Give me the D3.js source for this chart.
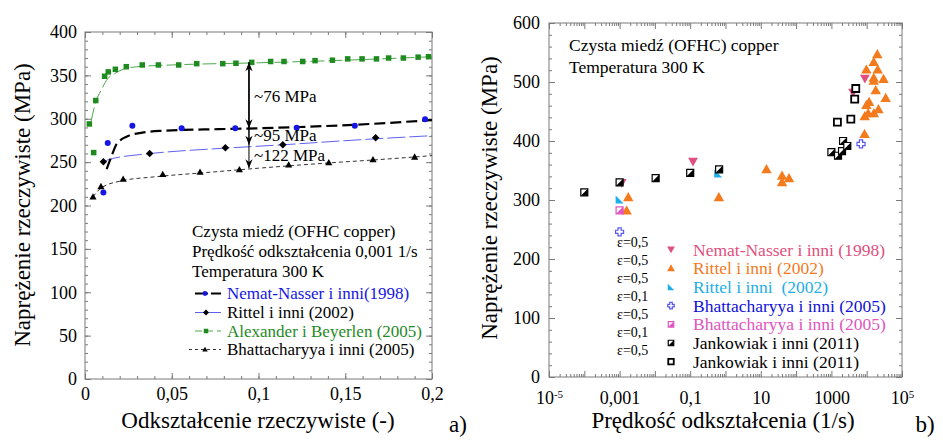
<!DOCTYPE html>
<html>
<head>
<meta charset="utf-8">
<script src="https://cdn.jsdelivr.net/npm/d3@7"></script>
<style>
  body { margin: 0; background: #fff; }
  svg { display: block; font-family: "Liberation Serif", "Times New Roman", serif; }
</style>
</head>
<body>
<svg id="chart" width="943" height="440"></svg>
<script>
// ---------- Panel a): true stress vs true strain at 0.001 1/s ----------
// [strain, stress MPa]
const alexanderPts = [[0.0025,294],[0.005,261],[0.0062,321],[0.0113,349],[0.0134,354],[0.0175,357],
  [0.0238,360],[0.033,362],[0.0423,362],[0.054,362],[0.0644,363.5],[0.0794,363.5],[0.087,364],
  [0.0961,365],[0.107,366],[0.1147,366],[0.1255,366],[0.1326,367],[0.1426,367.5],[0.1514,369],
  [0.1597,369],[0.168,369],[0.175,370],[0.1835,370],[0.192,371],[0.198,371.5]];
const alexanderFit = [[0.0035,297],[0.006,318],[0.0096,334],[0.013,346],[0.017,352],[0.022,357],
  [0.03,360],[0.05,362],[0.1,364.5],[0.15,367.5],[0.2,371.5]];

const nematPts = [[0.0106,215],[0.0131,272],[0.0273,292],[0.0557,289],[0.0866,289],[0.122,289.5],
  [0.1555,292],[0.196,299.5]];
const nematFit = [[0.0125,242],[0.0155,258],[0.0183,271],[0.0248,280],[0.033,284],[0.043,286],
  [0.077,288],[0.1,289],[0.124,290.5],[0.155,293],[0.2,298.5]];

const rittelPts = [[0.0106,250.5],[0.0373,260],[0.0809,266.5],[0.114,270],[0.1675,278]];
const rittelFit = [[0.0106,249],[0.013,252.5],[0.033,259],[0.046,261.5],[0.08,266],[0.114,270],
  [0.16,276],[0.2,280.5]];

const bhattPts = [[0.0046,210],[0.0092,222],[0.022,230.5],[0.0448,236],[0.0663,238.5],[0.089,241.5],
  [0.1174,247],[0.1405,249.5],[0.166,253],[0.19,256]];
const bhattFit = [[0.0046,210],[0.0092,220],[0.02,228],[0.04,233],[0.07,238],[0.1,243],[0.14,249],
  [0.17,253],[0.2,257.5]];

// stress gaps measured at one strain: [strain, upper stress, lower stress, label]
const gapArrows = [[0.0945,365,289,"~76 MPa"],[0.0945,365,270,"~95 MPa"],[0.0945,365,243,"~122 MPa"]];

const strainTicks = [0,0.05,0.1,0.15,0.2];
const stressTicksA = [0,50,100,150,200,250,300,350,400];

const infoA = ["Czysta miedź (OFHC copper)","Prędkość odkształcenia 0,001 1/s","Temperatura 300 K"];
const legendA = ["Nemat-Nasser i inni(1998)","Rittel i inni (2002)","Alexander i Beyerlen (2005)","Bhattacharyya i inni (2005)"];

// ---------- Panel b): true stress vs strain rate ----------
// [strain rate 1/s, stress MPa]
const nematB = [[0.00115,329],[0.12,365],[4100,482],[8900,506]];
const rittelOrangeB = [[0.00176,304.5],[0.00158,282],[0.65,304.5],[14.5,352],[40,341],[40,330],[63,337],
  [20000,547],[15800,534],[9800,521],[20500,521],[15800,507],[15800,502],[30000,505],[18000,486],
  [34500,473],[9800,461],[11700,466],[11000,447],[16000,447],[21500,454],[8800,442],[8700,412]];
const rittelCyanB = [[0.001,301],[0.62,345]];
const bhattBlueB = [[0.001,246],[6900,395]];
const bhattPinkB = [[0.001,282.5]];
const jankHalfB = [[0.0001,313],[0.001,330],[0.0105,337],[0.1,346],[0.66,352],[1000,381],[1540,375],
  [2000,383],[2140,400],[2820,391.5]];
const jankOpenB = [[1480,432],[3550,437],[4570,471],[4900,489]];

const rateLabelTicks = [1e-5,1e-3,1e-1,1e1,1e3,1e5];
const stressTicksB = [0,100,200,300,400,500,600];
const epsLabels = ["ε=0,5","ε=0,5","ε=0,5","ε=0,1","ε=0,5","ε=0,1","ε=0,5"];
const infoB = ["Czysta miedź (OFHC) copper","Temperatura 300 K"];
const legendB = ["Nemat-Nasser i inni (1998)","Rittel i inni (2002)","Rittel i inni  (2002)",
  "Bhattacharyya i inni (2005)","Bhattacharyya i inni (2005)","Jankowiak i inni (2011)","Jankowiak i inni (2011)"];

// ---------- colours ----------
const C = {
  green: "#1f8a1f", greenLine: "#4aa84a", blue: "#1515e6", blueLine: "#6060f0",
  black: "#000", pink: "#e0507e", orange: "#f37a1d", cyan: "#1eaee8",
  violet: "#5858f0", magenta: "#e055c0", frame: "#7a7a7a"
};
const SERIF = "'Liberation Serif', 'Times New Roman', serif";

const svg = d3.select("#chart");
const loc = d3.formatLocale({decimal: ",", thousands: "", grouping: [3], currency: ["", ""]});
const fmtA = loc.format(".2~f");

// ---------- shared helpers ----------
function frame(g, x0, y0, x1, y1) {
  g.append("rect").attr("x", x0).attr("y", y0).attr("width", x1 - x0).attr("height", y1 - y0)
    .attr("fill", "none").attr("stroke", C.frame).attr("stroke-width", 1);
}
function styleAxis(sel) {
  sel.attr("font-family", null).attr("font-size", null);
  sel.select(".domain").remove();
  sel.selectAll(".tick line").attr("stroke", C.frame);
  sel.selectAll(".tick text").style("font-family", SERIF).attr("font-size", 18).attr("fill", "#000");
}
function label(g, x, y, t, size, color, anchor) {
  return g.append("text").attr("x", x).attr("y", y).attr("dominant-baseline", "central")
    .attr("text-anchor", anchor || "start").style("font-family", SERIF)
    .attr("font-size", size).attr("fill", color || "#000").text(t);
}
const P = {
  square: s => `M${-s/2},${-s/2}h${s}v${s}h${-s}Z`,
  circle: r => `M${r},0A${r},${r} 0 1,1 ${-r},0A${r},${r} 0 1,1 ${r},0Z`,
  diamond: s => `M0,${-s/2}L${s/2},0L0,${s/2}L${-s/2},0Z`,
  triUp: s => `M0,${-s*0.55}L${s*0.55},${s*0.42}L${-s*0.55},${s*0.42}Z`,
  triDown: s => `M0,${s*0.55}L${s*0.55},${-s*0.42}L${-s*0.55},${-s*0.42}Z`,
  triCorner: s => `M${-s/2},${-s/2}L${s/2},${s/2}L${-s/2},${s/2}Z`,
  halfLR: s => `M${s/2},${-s/2}L${s/2},${s/2}L${-s/2},${s/2}Z`,
  cross: s => { const a = s/2, b = s/5; return `M${-b},${-a}H${b}V${-b}H${a}V${b}H${b}V${a}H${-b}V${b}H${-a}V${-b}H${-b}Z`; }
};
function marks(g, data, x, y, draw) {
  data.forEach(d => draw(g.append("g").attr("transform", `translate(${x(d[0])},${y(d[1])})`)));
}

// ================= Panel a =================
const xA = d3.scaleLinear().domain([0, 0.2]).range([85, 432]);
const yA = d3.scaleLinear().domain([0, 400]).range([379, 32]);
const gA = svg.append("g");

const minorX = d3.range(0, 0.2001, 0.01), minorY = d3.range(0, 401, 10);
[[d3.axisBottom(xA), 379, true], [d3.axisTop(xA), 32, false]].forEach(([ax, ty, lab]) => {
  gA.append("g").attr("transform", `translate(0,${ty})`)
    .call(ax.tickValues(minorX).tickSize(-3).tickFormat("")).call(styleAxis);
  gA.append("g").attr("transform", `translate(0,${ty})`)
    .call(ax.tickValues(strainTicks).tickSize(-6).tickPadding(8).tickFormat(lab ? fmtA : "")).call(styleAxis);
});
[[d3.axisLeft(yA), 85, true], [d3.axisRight(yA), 432, false]].forEach(([ax, tx, lab]) => {
  gA.append("g").attr("transform", `translate(${tx},0)`)
    .call(ax.tickValues(minorY).tickSize(-3).tickFormat("")).call(styleAxis);
  gA.append("g").attr("transform", `translate(${tx},0)`)
    .call(ax.tickValues(stressTicksA).tickSize(-6).tickPadding(8).tickFormat(lab ? d3.format("d") : "")).call(styleAxis);
});
frame(gA, 85, 32, 432, 379);

const lineA = d3.line().x(d => xA(d[0])).y(d => yA(d[1])).curve(d3.curveMonotoneX);
gA.append("path").attr("d", lineA(alexanderFit)).attr("fill", "none").attr("stroke", C.greenLine)
  .attr("stroke-width", 1).attr("stroke-dasharray", "14,4");
gA.append("path").attr("d", lineA(rittelFit)).attr("fill", "none").attr("stroke", C.blueLine)
  .attr("stroke-width", 1).attr("stroke-dasharray", "18,4");
gA.append("path").attr("d", lineA(bhattFit)).attr("fill", "none").attr("stroke", "#333")
  .attr("stroke-width", 1).attr("stroke-dasharray", "4,3");
gA.append("path").attr("d", lineA(nematFit)).attr("fill", "none").attr("stroke", C.black)
  .attr("stroke-width", 2.2).attr("stroke-dasharray", "11,5");

marks(gA, alexanderPts, xA, yA, m => m.append("path").attr("d", P.square(5.5)).attr("fill", C.green));
marks(gA, nematPts, xA, yA, m => m.append("path").attr("d", P.circle(3)).attr("fill", C.blue));
marks(gA, rittelPts, xA, yA, m => m.append("path").attr("d", P.diamond(7.5)).attr("fill", C.black));
marks(gA, bhattPts, xA, yA, m => m.append("path").attr("d", P.triUp(6.5)).attr("fill", C.black));

// gap arrows
const headDown = "M0,0L-3.6,-9L0,-6.2L3.6,-9Z", headUp = "M0,0L-3.6,9L0,6.2L3.6,9Z";
gapArrows.forEach((a, i) => {
  const x = xA(a[0]);
  gA.append("line").attr("x1", x).attr("x2", x).attr("y1", yA(a[1])).attr("y2", yA(a[2]))
    .attr("stroke", "#000").attr("stroke-width", 1);
  gA.append("path").attr("transform", `translate(${x},${yA(a[2])})`).attr("d", headDown).attr("fill", "#000");
  if (i === 0) gA.append("path").attr("transform", `translate(${x},${yA(a[1])})`).attr("d", headUp).attr("fill", "#000");
});
const arrowLabelY = [96.5, 135, 155.5];
gapArrows.forEach((a, i) => label(gA, xA(a[0]) + 5, arrowLabelY[i], a[3], 17));

// info + legend
const infoAY = [231, 251.5, 271.5];
infoA.forEach((t, i) => label(gA, 192, infoAY[i], t, 17));
const legAY = [293.5, 312.5, 331, 349.5];
const legAColors = [C.blue, "#000", C.green, "#000"];
legendA.forEach((t, i) => label(gA, 227, legAY[i], t, 17, legAColors[i]));
// legend samples
gA.append("line").attr("x1", 195).attr("x2", 221).attr("y1", legAY[0]).attr("y2", legAY[0])
  .attr("stroke", "#000").attr("stroke-width", 2).attr("stroke-dasharray", "13,3");
gA.append("path").attr("transform", `translate(205,${legAY[0]})`).attr("d", P.circle(2.4)).attr("fill", C.blue);
gA.append("line").attr("x1", 195).attr("x2", 221).attr("y1", legAY[1]).attr("y2", legAY[1])
  .attr("stroke", C.blueLine).attr("stroke-width", 1);
gA.append("path").attr("transform", `translate(206,${legAY[1]})`).attr("d", P.diamond(6)).attr("fill", "#000");
gA.append("line").attr("x1", 195).attr("x2", 221).attr("y1", legAY[2]).attr("y2", legAY[2])
  .attr("stroke", C.greenLine).attr("stroke-width", 1).attr("stroke-dasharray", "7,4");
gA.append("path").attr("transform", `translate(206,${legAY[2]})`).attr("d", P.square(4.5)).attr("fill", C.green);
gA.append("line").attr("x1", 189).attr("x2", 221).attr("y1", legAY[3]).attr("y2", legAY[3])
  .attr("stroke", "#333").attr("stroke-width", 1).attr("stroke-dasharray", "3,3");
gA.append("path").attr("transform", `translate(205,${legAY[3]})`).attr("d", P.triUp(5)).attr("fill", "#000");

// axis titles
label(gA, 0, 0, "Naprężenie rzeczywiste (MPa)", 23, "#000", "middle")
  .attr("transform", "translate(22,205) rotate(-90)");
label(gA, 258, 420, "Odkształcenie rzeczywiste (-)", 23, "#000", "middle");
label(gA, 458, 424, "a)", 23, "#000", "middle");

// ================= Panel b =================
const xB = d3.scaleLog().domain([1e-5, 1e5]).range([549, 902]);
const yB = d3.scaleLinear().domain([0, 600]).range([377, 23]);
const gB = svg.append("g");

const decades = d3.range(-5, 6).map(e => Math.pow(10, e));
const minorLog = [];
d3.range(-5, 5).forEach(e => d3.range(2, 10).forEach(k => minorLog.push(k * Math.pow(10, e))));
const minorYB = d3.range(0, 601, 20);

[[d3.axisBottom(xB), 377, true], [d3.axisTop(xB), 23, false]].forEach(([ax, ty, lab]) => {
  gB.append("g").attr("transform", `translate(0,${ty})`)
    .call(ax.tickValues(minorLog).tickSize(-3).tickFormat("")).call(styleAxis);
  gB.append("g").attr("transform", `translate(0,${ty})`)
    .call(ax.tickValues(decades).tickSize(-6).tickFormat("")).call(styleAxis);
  if (lab) {
    const axg = gB.append("g").attr("transform", `translate(0,${ty})`)
      .call(ax.tickValues(rateLabelTicks).tickSize(0).tickPadding(14)
        .tickFormat(d => (d === 1e-5 || d === 1e5) ? "" : loc.format("~g")(d)))
      .call(styleAxis);
    axg.selectAll(".tick line").remove();
    axg.selectAll(".tick text").each(function(d) {
      if (d === 1e-5 || d === 1e5) {
        const t = d3.select(this);
        t.append("tspan").text("10");
        t.append("tspan").attr("font-size", 11).attr("dy", "-0.55em").text(d === 1e-5 ? "-5" : "5");
      }
    });
  }
});
[[d3.axisLeft(yB), 549, true], [d3.axisRight(yB), 902, false]].forEach(([ax, tx, lab]) => {
  gB.append("g").attr("transform", `translate(${tx},0)`)
    .call(ax.tickValues(minorYB).tickSize(-3).tickFormat("")).call(styleAxis);
  gB.append("g").attr("transform", `translate(${tx},0)`)
    .call(ax.tickValues(stressTicksB).tickSize(-6).tickPadding(9).tickFormat(lab ? d3.format("d") : "")).call(styleAxis);
});
frame(gB, 549, 23, 902, 377);

// markers
const drawB = {
  nemat: (m, s) => m.append("path").attr("d", P.triDown(s || 9)).attr("fill", C.pink),
  rittelO: (m, s) => m.append("path").attr("d", P.triUp(s || 9.5)).attr("fill", C.orange),
  rittelC: (m, s) => m.append("path").attr("d", P.triCorner(s || 8)).attr("fill", C.cyan),
  bhattB: (m, s) => m.append("path").attr("d", P.cross(s || 8)).attr("fill", "#fff")
    .attr("stroke", C.violet).attr("stroke-width", 1.2),
  bhattP: (m, s) => {
    s = s || 7;
    m.append("path").attr("d", P.square(s)).attr("fill", "#fff").attr("stroke", C.magenta).attr("stroke-width", 1.2);
    m.append("path").attr("d", P.halfLR(s)).attr("fill", C.magenta);
  },
  jankH: (m, s) => {
    s = s || 7;
    m.append("path").attr("d", P.square(s)).attr("fill", "#fff").attr("stroke", "#000").attr("stroke-width", 1.2);
    m.append("path").attr("d", P.halfLR(s)).attr("fill", "#000");
  },
  jankO: (m, s) => m.append("path").attr("d", P.square(s || 7)).attr("fill", "#fff")
    .attr("stroke", "#000").attr("stroke-width", 1.8)
};
marks(gB, nematB, xB, yB, m => drawB.nemat(m));
marks(gB, rittelOrangeB, xB, yB, m => drawB.rittelO(m));
marks(gB, rittelCyanB, xB, yB, m => drawB.rittelC(m));
marks(gB, bhattBlueB, xB, yB, m => drawB.bhattB(m));
marks(gB, bhattPinkB, xB, yB, m => drawB.bhattP(m));
marks(gB, jankHalfB, xB, yB, m => drawB.jankH(m));
marks(gB, jankOpenB, xB, yB, m => drawB.jankO(m));

// info text
const infoBY = [45, 66.5];
infoB.forEach((t, i) => label(gB, 569, infoBY[i], t, 17.5));

// strain levels
epsLabels.forEach((t, i) => label(gB, 617, 242.7 + i * 18, t, 14));

// legend
const legBColors = [C.pink, C.orange, C.cyan, "#1010d8", C.magenta, "#000", "#000"];
const legBDraw = [drawB.nemat, drawB.rittelO, drawB.rittelC, drawB.bhattB, drawB.bhattP, drawB.jankH, drawB.jankO];
const legBSize = [7, 7, 6.5, 6.5, 5.5, 5.5, 5.5];
legendB.forEach((t, i) => {
  const y = 249.5 + i * 18.7;
  legBDraw[i](gB.append("g").attr("transform", `translate(671,${y})`), legBSize[i]);
  label(gB, 693, y, t, 17.5, legBColors[i]).style("white-space", "pre");
});

// axis titles
label(gB, 0, 0, "Naprężenie rzeczywiste (MPa)", 23, "#000", "middle")
  .attr("transform", "translate(489,198) rotate(-90)");
label(gB, 723, 420, "Prędkość odkształcenia (1/s)", 23, "#000", "middle");
label(gB, 925, 424, "b)", 23, "#000", "middle");
</script>
</body>
</html>
